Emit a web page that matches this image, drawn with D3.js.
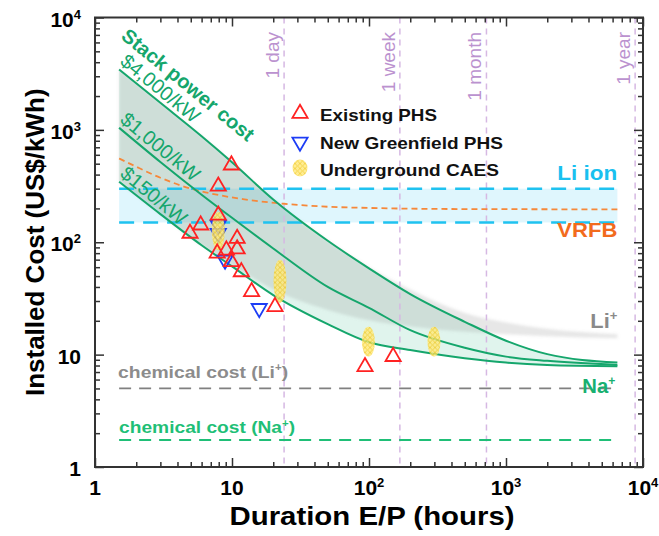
<!DOCTYPE html>
<html>
<head>
<meta charset="utf-8">
<script src="https://cdn.jsdelivr.net/npm/d3@7"></script>
<style>
  body { margin: 0; background: #fff; }
  text { font-family: "Liberation Sans", Arial, sans-serif; }
</style>
</head>
<body>
<div id="chart"></div>
<script>
// values
var decades = [1, 10, 100, 1000, 10000];
var stackX = [1.5, 3, 6, 10, 20, 50, 100, 200, 500, 1000, 2000, 6500];
var stack4000 = [3450, 1740, 877, 515, 240, 103, 58.6, 34.6, 19.6, 13.3, 10.1, 8.5];
var stack1000 = [1044, 518, 265, 165, 88, 40, 26.1, 16.5, 11.5, 9.6, 8.8, 8.1];
var stack150 = [345, 178, 94, 61, 33.9, 18.7, 12.9, 11.0, 9.3, 8.5, 8.1, 7.9];
var liUpper = [3450, 1740, 877, 515, 240, 103, 60, 38, 23.5, 19.3, 17, 15.2];
var liLower = [345, 178, 94, 63, 38, 25, 20.2, 17.8, 16, 15.2, 14.6, 14];

var vrfbX = [1.5, 2, 3, 5, 8, 12, 24, 50, 100, 300, 1000, 6500];
var vrfbCost = [557, 470, 375, 300, 263, 242, 220, 207, 202, 198, 197, 196];

var liIonBand = [150, 300];
var bandX = [1.5, 6500];
var chemLi = 5;
var chemNa = 1.74;

var existingPHS = [[9.9, 486], [7.94, 315], [7.94, 174], [5.91, 142], [4.94, 120], [10.9, 108],
  [10.9, 87], [7.8, 80], [9.1, 85], [9.9, 67], [11.7, 54.5], [13.9, 36.3], [20.6, 26.7],
  [93.5, 7.8], [150, 9.6]];
var greenfieldPHS = [[7.94, 142], [7.94, 120], [8.9, 69.5], [15.8, 25.8]];
// duration, low cost, high cost
var caes = [[7.94, 85, 186], [22.4, 29, 70], [99, 9.6, 17.7], [298, 9.6, 17.7]];

var periods = [["1 day", 24], ["1 week", 168], ["1 month", 720], ["1 year", 8760]];

var svgWidth = 659, svgHeight = 536;
var margin = {top: 17.5, right: 16, bottom: 69, left: 95};
var width = svgWidth - margin.left - margin.right;
var height = svgHeight - margin.top - margin.bottom;

var green = "#15a66c";

var svg = d3.select("#chart").append("svg")
  .attr("width", svgWidth)
  .attr("height", svgHeight);

var defs = svg.append("defs");
var hatch = defs.append("pattern")
  .attr("id", "hatch")
  .attr("width", 5)
  .attr("height", 5)
  .attr("patternUnits", "userSpaceOnUse");
hatch.append("rect").attr("width", 5).attr("height", 5).attr("fill", "#ffe978");
hatch.append("path").attr("d", "M0,0L5,5M5,0L0,5").attr("stroke", "#f0c30f").attr("stroke-width", 0.8);

defs.append("filter").attr("id", "soft")
  .append("feGaussianBlur").attr("stdDeviation", 1.5);

var chartGroup = svg.append("g")
  .attr("transform", `translate(${margin.left}, ${margin.top})`);

var x = d3.scaleLog().domain([1, 1e4]).range([0, width]);
var y = d3.scaleLog().domain([1, 1e4]).range([height, 0]);

// shaded bands
var idx = d3.range(stackX.length);

chartGroup.append("rect")
  .attr("x", x(bandX[0]))
  .attr("y", y(liIonBand[1]))
  .attr("width", x(bandX[1]) - x(bandX[0]))
  .attr("height", y(liIonBand[0]) - y(liIonBand[1]))
  .attr("fill", "#5fd3f3")
  .attr("fill-opacity", 0.2);

var band = function(lo, hi) {
  return d3.area()
    .x(i => x(stackX[i]))
    .y0(i => y(lo[i]))
    .y1(i => y(hi[i]))
    .curve(d3.curveMonotoneX)(idx);
};

chartGroup.append("path")
  .attr("d", band(stack150, stack4000))
  .attr("fill", "#00a86b")
  .attr("fill-opacity", 0.12);

chartGroup.append("path")
  .attr("d", band(liLower, liUpper))
  .attr("fill", "#888")
  .attr("fill-opacity", 0.2)
  .attr("filter", "url(#soft)");

// time markers
periods.forEach(function(p) {
  chartGroup.append("line")
    .attr("x1", x(p[1])).attr("x2", x(p[1]))
    .attr("y1", 0).attr("y2", height)
    .attr("stroke", "#d6b8e3")
    .attr("stroke-width", 1.5)
    .attr("stroke-dasharray", "6,5");
  chartGroup.append("text")
    .attr("transform", `translate(${x(p[1]) - 5}, 14.5) rotate(-90)`)
    .attr("text-anchor", "end")
    .attr("font-size", 19)
    .attr("fill", "#bb92cf")
    .text(p[0]);
});

// horizontal reference lines
liIonBand.forEach(function(v) {
  chartGroup.append("line")
    .attr("x1", x(bandX[0])).attr("x2", x(bandX[1]))
    .attr("y1", y(v)).attr("y2", y(v))
    .attr("stroke", "#1fc2f0")
    .attr("stroke-width", 2.5)
    .attr("stroke-dasharray", "15,9");
});

chartGroup.append("line")
  .attr("x1", x(bandX[0])).attr("x2", x(bandX[1]))
  .attr("y1", y(chemLi)).attr("y2", y(chemLi))
  .attr("stroke", "#808080")
  .attr("stroke-width", 1.8)
  .attr("stroke-dasharray", "12,8");

chartGroup.append("line")
  .attr("x1", x(bandX[0])).attr("x2", x(bandX[1]) - 5)
  .attr("y1", y(chemNa)).attr("y2", y(chemNa))
  .attr("stroke", "#1fbf77")
  .attr("stroke-width", 2)
  .attr("stroke-dasharray", "12,8");

var vrfbLine = d3.line()
  .x((d, i) => x(vrfbX[i]))
  .y(d => y(d))
  .curve(d3.curveMonotoneX);

chartGroup.append("path")
  .attr("d", vrfbLine(vrfbCost))
  .attr("fill", "none")
  .attr("stroke", "#f6883a")
  .attr("stroke-width", 1.8)
  .attr("stroke-dasharray", "6,4");

// stack power cost curves
var stackLine = d3.line()
  .x((d, i) => x(stackX[i]))
  .y(d => y(d))
  .curve(d3.curveMonotoneX);

[stack4000, stack1000, stack150].forEach(function(s) {
  chartGroup.append("path")
    .attr("d", stackLine(s))
    .attr("fill", "none")
    .attr("stroke", green)
    .attr("stroke-width", 2);
});

// markers
var upTri = d3.symbol(d3.symbolTriangle).size(100);

chartGroup.selectAll(".greenfield")
  .data(greenfieldPHS)
  .enter()
  .append("path")
  .attr("class", "greenfield")
  .attr("d", upTri)
  .attr("transform", d => `translate(${x(d[0])}, ${y(d[1])}) rotate(180)`)
  .attr("fill", "none")
  .attr("stroke", "#1d3df5")
  .attr("stroke-width", 1.8);

chartGroup.selectAll(".caes")
  .data(caes)
  .enter()
  .append("ellipse")
  .attr("class", "caes")
  .attr("cx", d => x(d[0]))
  .attr("cy", d => (y(d[1]) + y(d[2])) / 2)
  .attr("rx", 6.5)
  .attr("ry", d => (y(d[1]) - y(d[2])) / 2)
  .attr("fill", "url(#hatch)")
  .attr("opacity", 0.8);

chartGroup.selectAll(".existing")
  .data(existingPHS)
  .enter()
  .append("path")
  .attr("class", "existing")
  .attr("d", upTri)
  .attr("transform", d => `translate(${x(d[0])}, ${y(d[1])})`)
  .attr("fill", "none")
  .attr("stroke", "#ff2222")
  .attr("stroke-width", 1.8);

// axes: frame plus inward ticks on every side
var minor = [];
decades.slice(0, 4).forEach(function(d) {
  for (var k = 2; k <= 9; k++) minor.push(d * k);
});

function tickAxes(vals, size) {
  var axes = [
    [d3.axisBottom(x), `translate(0, ${height})`],
    [d3.axisTop(x), "translate(0, 0)"],
    [d3.axisLeft(y), "translate(0, 0)"],
    [d3.axisRight(y), `translate(${width}, 0)`]
  ];
  axes.forEach(function(a) {
    var g = chartGroup.append("g")
      .attr("transform", a[1])
      .call(a[0].tickValues(vals).tickSize(-size).tickFormat(""));
    g.select(".domain").remove();
    g.selectAll("line").attr("stroke", "#333").attr("stroke-width", 1.5);
  });
}
tickAxes(minor, 5);
tickAxes(decades, 9);

chartGroup.append("rect")
  .attr("width", width)
  .attr("height", height)
  .attr("fill", "none")
  .attr("stroke", "#333")
  .attr("stroke-width", 2);

function powLabel(sel) {
  sel.each(function(d) {
    var e = Math.round(Math.log10(d));
    var t = d3.select(this);
    if (e < 2) {
      t.text(d);
    } else {
      t.append("tspan").text("10");
      t.append("tspan").attr("dy", -8).attr("font-size", 13).text(e);
    }
  });
}

chartGroup.selectAll(".xlab")
  .data(decades)
  .enter()
  .append("text")
  .attr("x", d => x(d))
  .attr("y", height + 28)
  .attr("text-anchor", "middle")
  .attr("font-size", 21)
  .attr("font-weight", "bold")
  .call(powLabel);

chartGroup.selectAll(".ylab")
  .data(decades)
  .enter()
  .append("text")
  .attr("x", -14)
  .attr("y", d => y(d) + 9)
  .attr("text-anchor", "end")
  .attr("font-size", 21)
  .attr("font-weight", "bold")
  .call(powLabel);

chartGroup.append("text")
  .attr("x", width / 2 + 3)
  .attr("y", height + 58)
  .attr("text-anchor", "middle")
  .attr("font-size", 25)
  .attr("font-weight", "bold")
  .attr("textLength", 285)
  .attr("lengthAdjust", "spacingAndGlyphs")
  .text("Duration E/P (hours)");

chartGroup.append("text")
  .attr("transform", `translate(-51, ${height / 2}) rotate(-90)`)
  .attr("text-anchor", "middle")
  .attr("font-size", 26)
  .attr("font-weight", "bold")
  .text("Installed Cost (US$/kWh)");

// curve labels
var ang = Math.atan2(y(1) - y(10), x(10) - x(1)) * 180 / Math.PI;
var stackLabels = [["$4,000/kW", stack4000], ["$1,000/kW", stack1000], ["$150/kW", stack150]];
stackLabels.forEach(function(s) {
  chartGroup.append("text")
    .attr("transform", `translate(${x(stackX[0])}, ${y(s[1][0]) - 6}) rotate(${ang})`)
    .attr("font-size", 20)
    .attr("fill", green)
    .text(s[0]);
});

chartGroup.append("text")
  .attr("transform", `translate(${x(stackX[0]) + 1}, 20.5) rotate(${ang})`)
  .attr("font-size", 20)
  .attr("font-weight", "bold")
  .attr("fill", green)
  .text("Stack power cost");

function sideLabel(txt, sup, px, py, color, size, len) {
  var t = chartGroup.append("text")
    .attr("x", px)
    .attr("y", py)
    .attr("font-size", size)
    .attr("font-weight", "bold")
    .attr("fill", color);
  t.append("tspan").text(txt);
  if (sup) t.append("tspan").attr("dy", -size * 0.38).attr("font-size", size * 0.6).text(sup);
  if (len) t.attr("textLength", len).attr("lengthAdjust", "spacingAndGlyphs");
  return t;
}

sideLabel("Li ion", null, x(bandX[1]), y(liIonBand[1]) - 9, "#19c0ef", 21, 60).attr("text-anchor", "end");
sideLabel("VRFB", null, x(bandX[1]), y(liIonBand[0]) + 15, "#f26b1d", 21, 60).attr("text-anchor", "end");
sideLabel("Li", "+", x(bandX[1]), 310.5, "#8a8a8a", 21, 27).attr("text-anchor", "end");
sideLabel("Na", "+", x(bandX[1]) - 2, 375.5, "#18b070", 21, 33).attr("text-anchor", "end");

var cl = sideLabel("chemical cost (Li", "+", x(bandX[0]) - 1, y(chemLi) - 10.5, "#8c8c8c", 17, 170);
cl.append("tspan").attr("dy", 17 * 0.38).text(")");
var cn = sideLabel("chemical cost (Na", "+", x(bandX[0]), y(chemNa) - 7, "#1fbf77", 17, 176);
cn.append("tspan").attr("dy", 17 * 0.38).text(")");

// legend
var legend = chartGroup.append("g").attr("transform", "translate(205, 96)");
legend.append("path")
  .attr("d", upTri)
  .attr("fill", "none")
  .attr("stroke", "#ff2222")
  .attr("stroke-width", 1.8);
legend.append("path")
  .attr("d", upTri)
  .attr("transform", "translate(0, 28.5) rotate(180)")
  .attr("fill", "none")
  .attr("stroke", "#1d3df5")
  .attr("stroke-width", 1.8);
legend.append("ellipse")
  .attr("cy", 54.5)
  .attr("rx", 7.5)
  .attr("ry", 8.5)
  .attr("fill", "url(#hatch)")
  .attr("opacity", 0.8);

var legendItems = [["Existing PHS", 117], ["New Greenfield PHS", 183], ["Underground CAES", 179]];
legendItems.forEach(function(item, i) {
  legend.append("text")
    .attr("x", 20)
    .attr("y", 7.5 + i * 27.5)
    .attr("font-size", 16.5)
    .attr("font-weight", "bold")
    .attr("fill", "#111")
    .attr("textLength", item[1])
    .attr("lengthAdjust", "spacingAndGlyphs")
    .text(item[0]);
});
</script>
</body>
</html>
